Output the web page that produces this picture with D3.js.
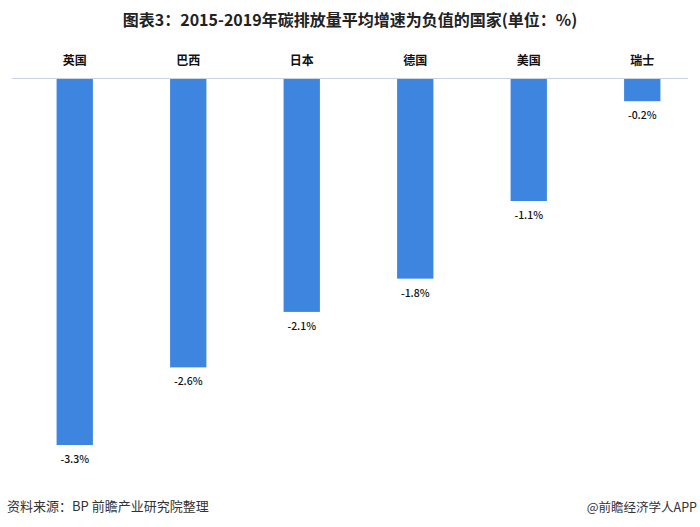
<!DOCTYPE html>
<html><head><meta charset="utf-8">
<script src="https://cdn.jsdelivr.net/npm/d3@7"></script>
<style>body{margin:0;background:#fff}svg{display:block}</style>
</head><body>
<svg id="c" width="700" height="527"></svg>
<script>
const categories = ["英国","巴西","日本","德国","美国","瑞士"];
const values = [-3.3,-2.6,-2.1,-1.8,-1.1,-0.2];
const title = "图表3：2015-2019年碳排放量平均增速为负值的国家(单位：%)";
const source = "资料来源：BP 前瞻产业研究院整理";
const credit = "@前瞻经济学人APP";

const svg = d3.select("#c");
const font = "'Microsoft YaHei','Noto Sans CJK SC',sans-serif";
const x = d3.scaleBand().domain(categories).range([18,699]).paddingInner(0.68).paddingOuter(0.34);
const y = d3.scaleLinear().domain([0,-3.3]).range([79,445]);

svg.append("text").attr("x",350).attr("y",26).attr("text-anchor","middle")
  .attr("font-family",font).attr("font-size",16).attr("font-weight","bold").attr("fill","#222").text(title);

svg.append("line").attr("x1",12).attr("x2",688).attr("y1",78.5).attr("y2",78.5)
  .attr("stroke","#c8d4e3").attr("stroke-width",1);

svg.selectAll("text.cat").data(categories).enter().append("text").attr("class","cat")
  .attr("x",d=>x(d)+x.bandwidth()/2).attr("y",65).attr("text-anchor","middle")
  .attr("font-family",font).attr("font-size",12).attr("font-weight","bold").attr("fill","#111").text(d=>d);

svg.selectAll("rect.bar").data(values).enter().append("rect").attr("class","bar")
  .attr("x",(d,i)=>x(categories[i])).attr("width",x.bandwidth())
  .attr("y",y(0)).attr("height",d=>y(d)-y(0)).attr("fill","#3e85e0");

svg.selectAll("text.val").data(values).enter().append("text").attr("class","val")
  .attr("x",(d,i)=>x(categories[i])+x.bandwidth()/2).attr("y",d=>y(d)+18).attr("text-anchor","middle")
  .attr("font-family",font).attr("font-size",10.5).attr("font-weight",500).attr("fill","#111").text(d=>d.toFixed(1)+"%");

svg.append("text").attr("x",7).attr("y",511).attr("font-family",font).attr("font-size",13).attr("fill","#333").text(source);
svg.append("text").attr("x",697).attr("y",512).attr("text-anchor","end").attr("font-family",font).attr("font-size",12.5).attr("fill","#333").text(credit);
</script>
</body></html>
